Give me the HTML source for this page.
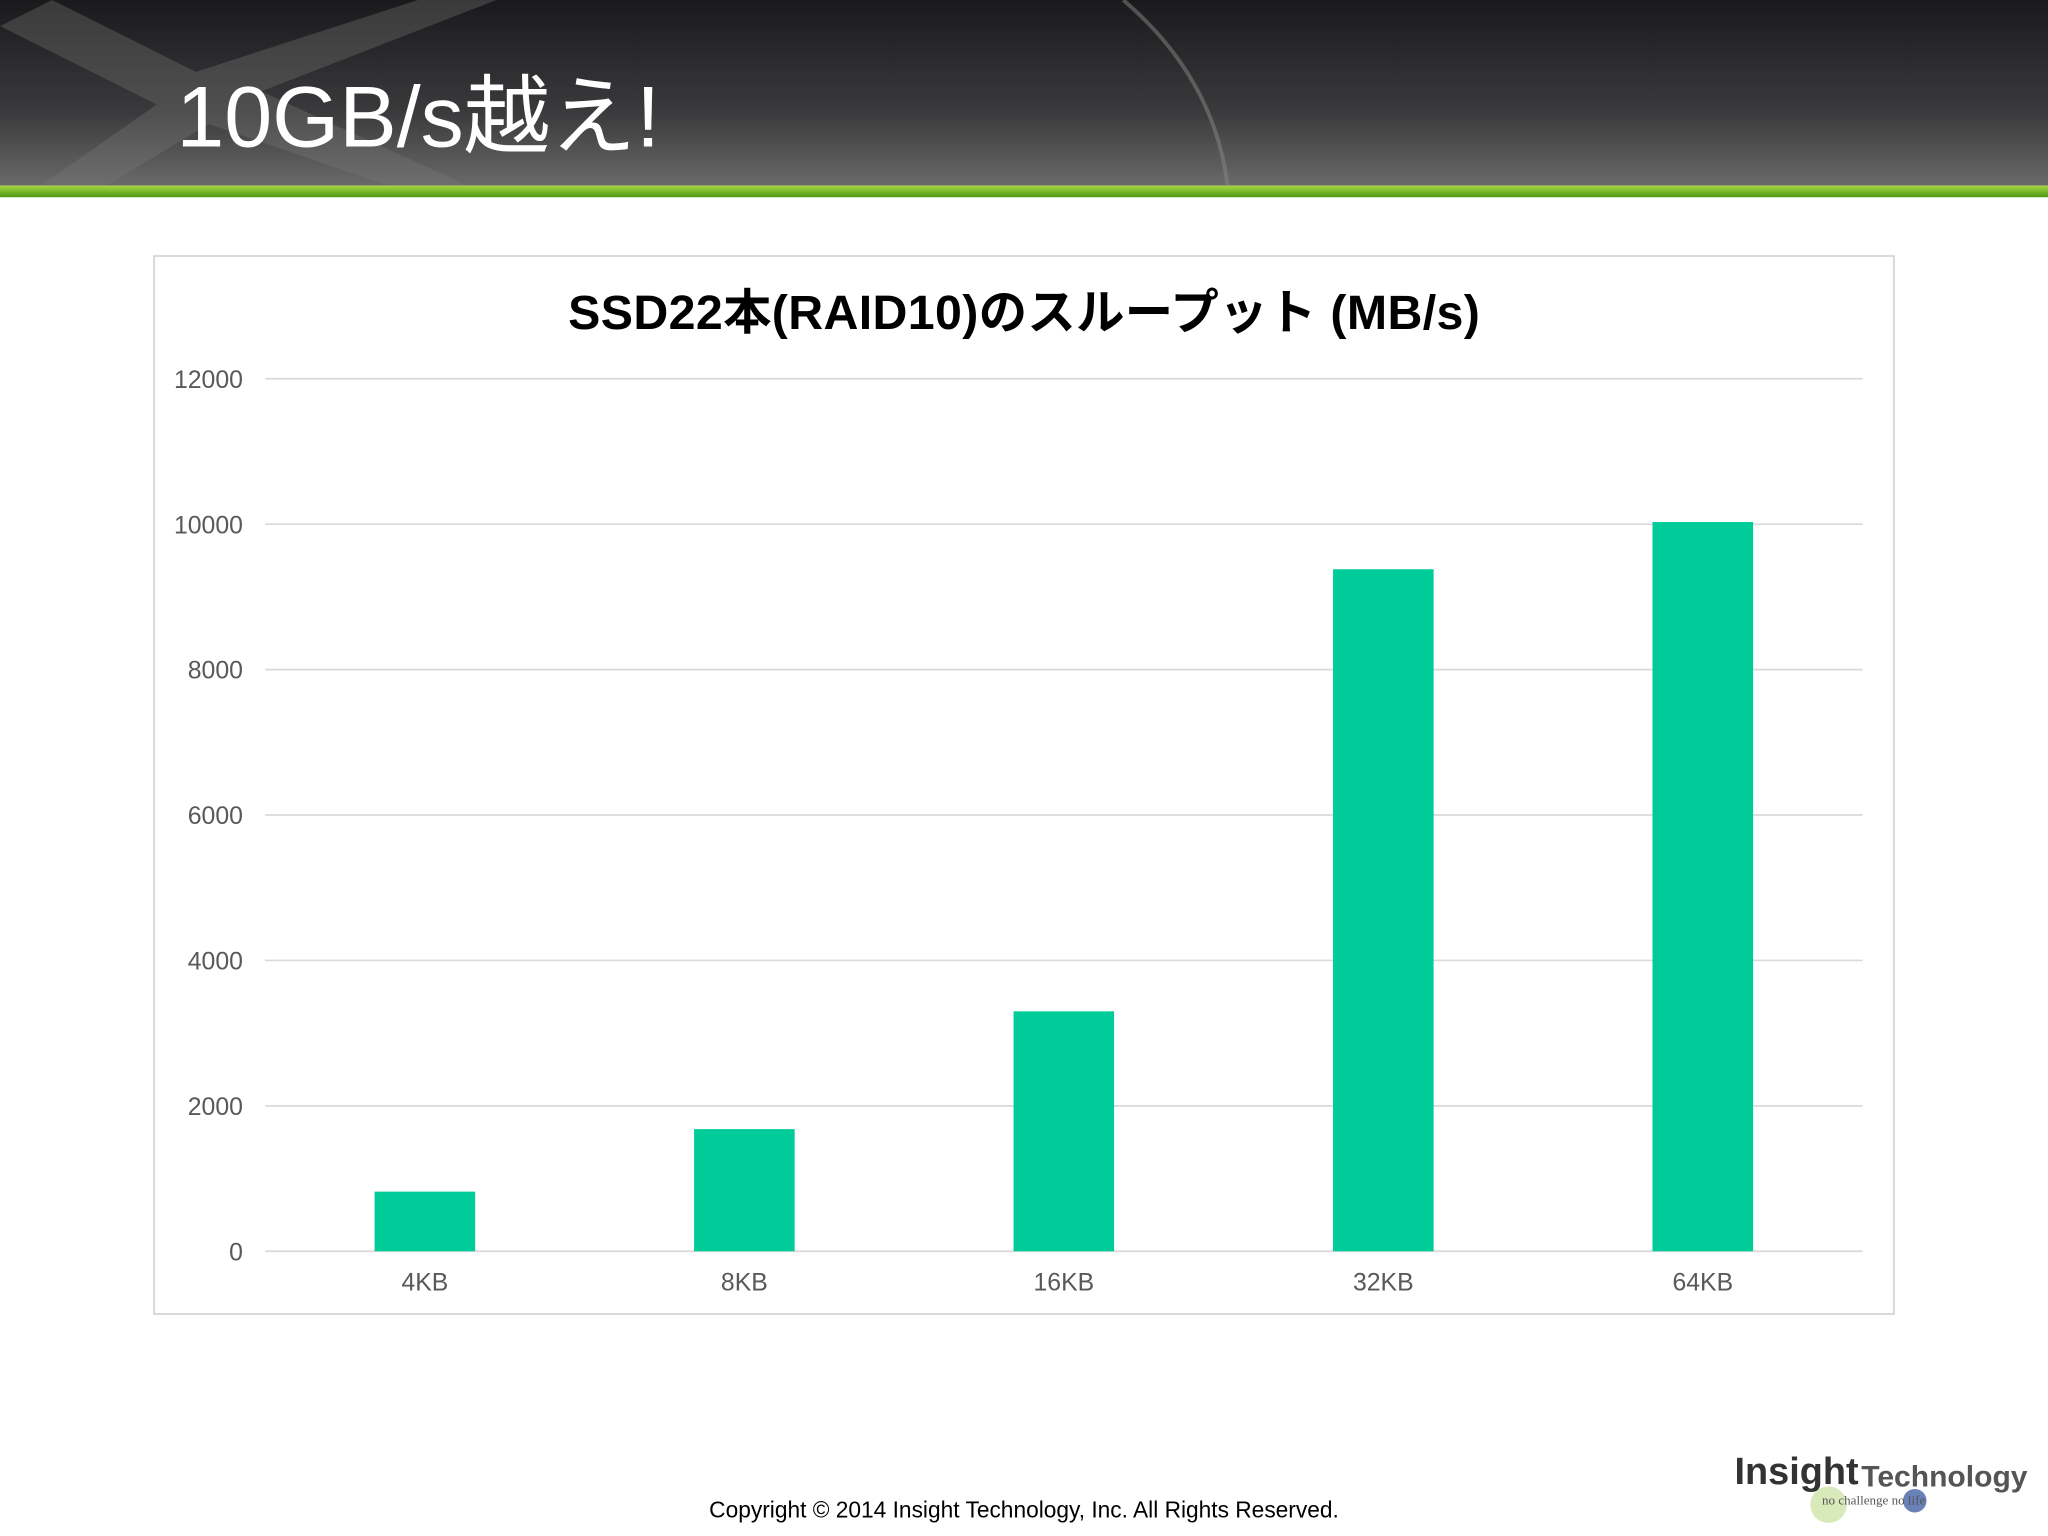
<!DOCTYPE html>
<html><head><meta charset="utf-8">
<style>
html,body{margin:0;padding:0;background:#fff;}
svg{display:block;font-family:"Liberation Sans","Noto Sans CJK JP",sans-serif;}
</style></head>
<body>
<svg id="chart" width="2048" height="1536" viewBox="0 0 1568 1176" xmlns="http://www.w3.org/2000/svg">
<defs>
<linearGradient id="hdr" x1="0" y1="0" x2="0" y2="1">
<stop offset="0" stop-color="#1a1a1c"/><stop offset="0.6" stop-color="#3a3a3c"/><stop offset="1" stop-color="#6a6a6a"/>
</linearGradient>
<linearGradient id="grn" x1="0" y1="0" x2="0" y2="1">
<stop offset="0" stop-color="#a8d84a"/><stop offset="1" stop-color="#4c9a10"/>
</linearGradient>
</defs>
<g>
<rect x="0" y="0" width="1568" height="143" fill="url(#hdr)"/>
<path d="M0 20 L120 80 L30 143 L80 143 L160 95 L300 143 L360 143 L200 70 L380 0 L320 0 L150 55 L40 0 Z" fill="#777" opacity="0.35"/>
<path d="M860 0 Q930 60 940 143" stroke="#888" stroke-width="3" fill="none" opacity="0.5"/>
<rect x="0" y="142" width="1568" height="9" fill="url(#grn)"/>
<text x="135" y="112" font-size="66" fill="#fff">10GB/s越え!</text>
</g>
<rect x="118" y="196" width="1332" height="810" fill="#fff" stroke="#d9d9d9" stroke-width="1.5"/>
<text x="784" y="252" font-size="37" font-weight="bold" text-anchor="middle" fill="#000" textLength="698">SSD22本(RAID10)のスループット (MB/s)</text>
<g id="grid"></g><g id="bars"></g><g id="labels"></g>
<text x="784" y="1162" font-size="17.4" text-anchor="middle" fill="#000">Copyright © 2014 Insight Technology, Inc. All Rights Reserved.</text>
<g>
<circle cx="1400" cy="1152" r="14" fill="#8fbf3a" opacity="0.35"/>
<circle cx="1466" cy="1149" r="9" fill="#2a4a9a" opacity="0.7"/>
<text x="1328" y="1136" font-size="29" font-weight="bold" fill="#333">Insight</text>
<text x="1425" y="1138" font-size="23" font-weight="bold" fill="#555">Technology</text>
<text x="1395" y="1152" font-size="10" fill="#555" font-family="Liberation Serif,serif">no challenge no life</text>
</g>
</svg>
<script>
const categories=["4KB","8KB","16KB","32KB","64KB"];
const values=[820,1680,3300,9380,10030];
const ticks=[0,2000,4000,6000,8000,10000,12000];
const NS="http://www.w3.org/2000/svg";
const x0=203,x1=1426,yBase=958,yTop=290,maxV=12000;
const y=v=>yBase-(v/maxV)*(yBase-yTop);
const step=(x1-x0)/categories.length;
const xc=i=>x0+step*(i+0.5);
function mk(tag,attrs,parent){const e=document.createElementNS(NS,tag);for(const k in attrs)e.setAttribute(k,attrs[k]);document.getElementById(parent).appendChild(e);return e;}
ticks.forEach(t=>{
 const l=mk('line',{x1:x0,x2:x1,y1:y(t),y2:y(t),stroke:'#d9d9d9','stroke-width':1.3},'grid');
 
 
 const tx=mk('text',{x:186,y:y(t)+7,'font-size':19,'text-anchor':'end',fill:'#595959'},'labels');
 tx.textContent=t;
 
 
});
categories.forEach((c,i)=>{
 const b=mk('rect',{x:xc(i)-38.5,y:y(values[i]),width:77,height:yBase-y(values[i]),fill:'#00cc99'},'bars');
 
 
 const tx=mk('text',{x:xc(i),y:988,'font-size':19,'text-anchor':'middle',fill:'#595959'},'labels');
 tx.textContent=c;
 
 
});
</script>
</body></html>
